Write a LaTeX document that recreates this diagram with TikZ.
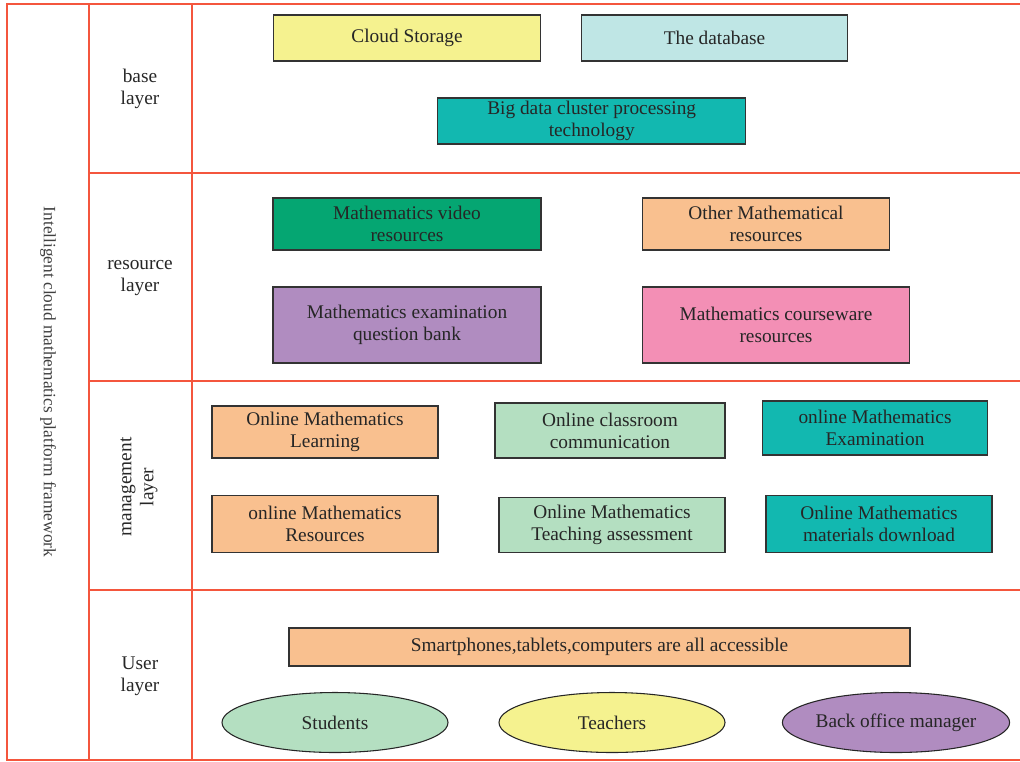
\documentclass[tikz,border=0pt]{standalone}
\usepackage{fontspec}
\setmainfont{Liberation Serif}
\usepackage{xcolor}
\usepackage{tikz}
\usetikzlibrary{shapes.geometric}

\definecolor{frameRed}{HTML}{F4563D}
\definecolor{boxYellow}{HTML}{F5F28F}
\definecolor{boxCyan}{HTML}{BFE6E5}
\definecolor{boxTeal}{HTML}{12B8B0}
\definecolor{boxGreen}{HTML}{05A672}
\definecolor{boxPeach}{HTML}{F9C08F}
\definecolor{boxPurple}{HTML}{B08CC0}
\definecolor{boxPink}{HTML}{F38FB5}
\definecolor{boxMint}{HTML}{B4DFC1}

\begin{document}
\begin{tikzpicture}[x=0.75pt,y=0.75pt,yscale=-1,xscale=1,
  box/.style={draw=black!80, line width=0.8pt, align=center, inner sep=1pt,
    text=black!85, font=\fontsize{14.5}{16.5}\selectfont},
  oval/.style={ellipse, draw=black!85, line width=0.8pt, inner sep=0pt,
    text=black!85, font=\fontsize{14.5}{16.5}\selectfont},
  layerText/.style={align=center, text=black!85, font=\fontsize{14.5}{16.5}\selectfont},
  frameLine/.style={draw=frameRed, line width=1.1pt}]
\useasboundingbox (0,0) rectangle (1020,761);

%Frame lines
\draw [frameLine] (1020,4) -- (7,4) -- (7,760) -- (1020,760) ;
\draw [frameLine] (89,4) -- (89,760) ;
\draw [frameLine] (192,4) -- (192,760) ;
\draw [frameLine] (89,173) -- (1020,173) ;
\draw [frameLine] (89,381) -- (1020,381) ;
\draw [frameLine] (89,590) -- (1020,590) ;

% Text Node
\node [layerText, rotate=-90, text=black!75, font=\fontsize{13}{15}\selectfont] (platform) at (48,382) {Intelligent cloud mathematics platform framework};
% Text Node
\node [layerText] (baseLayer) at (140,89) {base\\layer};
% Text Node
\node [layerText] (resourceLayer) at (140,278) {resource\\layer};
% Text Node
\node [layerText, rotate=90] (manageLayer) at (139,487) {management\\layer};
% Text Node
\node [layerText] (userLayer) at (140,676) {User\\layer};

%Base layer
\node [box, fill=boxYellow, minimum width=200pt, minimum height=34.5pt] (cloud) at (407,38) {Cloud Storage};
\node [box, fill=boxCyan, minimum width=200pt, minimum height=34.5pt] (database) at (714.5,38) {The database};
\node [box, fill=boxTeal, minimum width=231pt, minimum height=34.5pt] (bigData) at (591.7,121) {Big data cluster processing\\technology};

%Resource layer
\node [box, fill=boxGreen, minimum width=201pt, minimum height=39pt] (video) at (407,224) {Mathematics video\\resources};
\node [box, fill=boxPeach, minimum width=185pt, minimum height=39pt] (otherRes) at (766,224) {Other Mathematical\\resources};
\node [box, fill=boxPurple, minimum width=201pt, minimum height=57pt] (examBank) at (407,325) {Mathematics examination\\question bank};
\node [box, fill=boxPink, minimum width=200pt, minimum height=57pt] (courseware) at (776,325) {Mathematics courseware\\resources};

%Management layer
\node [box, fill=boxPeach, minimum width=169.5pt, minimum height=39pt] (learning) at (325,432) {Online Mathematics\\Learning};
\node [box, fill=boxMint, minimum width=172.5pt, minimum height=41.25pt] (classroom) at (610,430.5) {Online classroom\\communication};
\node [box, fill=boxTeal, minimum width=168.75pt, minimum height=40.5pt] (exam) at (875,428) {online Mathematics\\Examination};
\node [box, fill=boxPeach, minimum width=169.5pt, minimum height=43pt] (resources) at (325,524) {online Mathematics\\Resources};
\node [box, fill=boxMint, minimum width=169.5pt, minimum height=41.25pt] (assessment) at (612,525) {Online Mathematics\\Teaching assessment};
\node [box, fill=boxTeal, minimum width=169.5pt, minimum height=42.75pt] (download) at (879,524) {Online Mathematics\\materials download};

%User layer
\node [box, fill=boxPeach, minimum width=465.75pt, minimum height=28.5pt] (devices) at (599.5,647) {Smartphones,tablets,computers are all accessible};
\node [oval, fill=boxMint, minimum width=169.5pt, minimum height=45pt] (students) at (335,722.5) {Students};
\node [oval, fill=boxYellow, minimum width=169.5pt, minimum height=45pt] (teachers) at (612,722.5) {Teachers};
\node [oval, fill=boxPurple, minimum width=170pt, minimum height=45pt] (manager) at (896,722.5) {Back office manager};

\end{tikzpicture}
\end{document}
